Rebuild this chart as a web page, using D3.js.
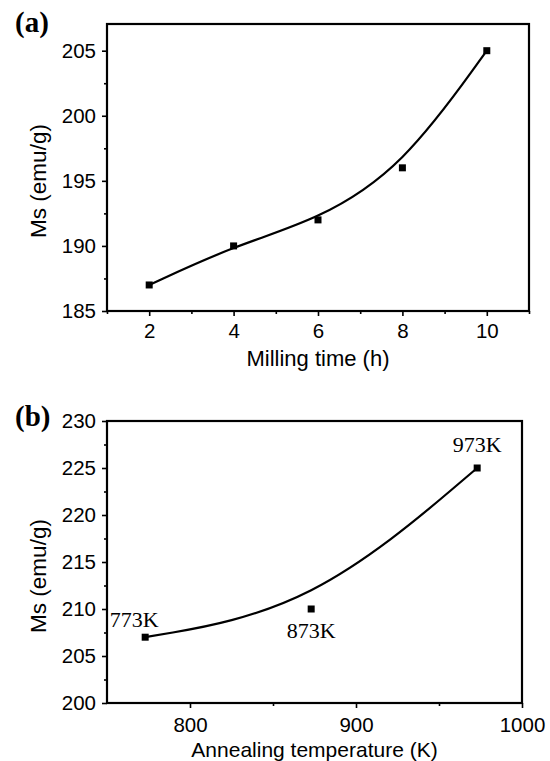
<!DOCTYPE html>
<html>
<head>
<meta charset="utf-8">
<script src="https://cdn.jsdelivr.net/npm/d3@7"></script>
<style>
  body { margin: 0; background: #fff; }
  svg text { fill: #000; }
</style>
</head>
<body>
<div id="content"></div>
<script>
// data
const millTime = [2, 4, 6, 8, 10];
const msMilling = [187, 190, 192, 196, 205];
const annealTemp = [773, 873, 973];
const msAnneal = [207, 210, 225];
const annealLabels = ["773K", "873K", "973K"];

const xTicksA = [2, 4, 6, 8, 10];
const xMinorA = [1, 3, 5, 7, 9, 11];
const yTicksA = [185, 190, 195, 200, 205];
const yMinorA = [187.5, 192.5, 197.5, 202.5];
const xTicksB = [800, 900, 1000];
const xMinorB = [850, 950];
const yTicksB = [200, 205, 210, 215, 220, 225, 230];
const yMinorB = [202.5, 207.5, 212.5, 217.5, 222.5, 227.5];

const svg = d3.select("#content")
    .append("svg")
    .attr("width", 550)
    .attr("height", 761);

const sans = "Liberation Sans, Arial, sans-serif";
const serif = "Liberation Serif, Times New Roman, serif";

function drawPanel(cfg) {
    const g = svg.append("g");
    const x = cfg.x, y = cfg.y;
    const [x0, x1] = x.range();
    const [y0, y1] = y.range();

    // minor ticks
    g.append("g")
        .attr("transform", "translate(0," + y0 + ")")
        .call(d3.axisBottom(x).tickValues(cfg.xMinor).tickSize(3).tickFormat(""))
        .call(a => a.select(".domain").remove());
    g.append("g")
        .attr("transform", "translate(" + x0 + ",0)")
        .call(d3.axisLeft(y).tickValues(cfg.yMinor).tickSize(3).tickFormat(""))
        .call(a => a.select(".domain").remove());

    // major ticks
    const xa = g.append("g")
        .attr("transform", "translate(0," + y0 + ")")
        .call(d3.axisBottom(x).tickValues(cfg.xTicks).tickSize(5).tickPadding(cfg.xPad).tickFormat(d3.format("d")));
    const ya = g.append("g")
        .attr("transform", "translate(" + x0 + ",0)")
        .call(d3.axisLeft(y).tickValues(cfg.yTicks).tickSize(5).tickPadding(6).tickFormat(d3.format("d")));

    [xa, ya].forEach(a => {
        a.select(".domain").remove();
        a.selectAll("text").attr("font-family", sans).attr("font-size", 20.5).attr("fill", "#000");
    });
    g.selectAll("line").attr("stroke", "#000").attr("stroke-width", 1.6);

    // frame
    g.append("rect")
        .attr("x", x0)
        .attr("y", y1)
        .attr("width", x1 - x0)
        .attr("height", y0 - y1)
        .attr("fill", "none")
        .attr("stroke", "#000")
        .attr("stroke-width", 2.2);

    // smooth line (B-spline)
    const pts = cfg.xs.map((d, i) => [d, cfg.ys[i]]);
    g.append("path")
        .datum(pts)
        .attr("fill", "none")
        .attr("stroke", "#000")
        .attr("stroke-width", 2.2)
        .attr("d", d3.line().x(d => x(d[0])).y(d => y(d[1])).curve(d3.curveBasis));

    // square markers
    g.selectAll("rect.pt")
        .data(pts)
        .enter()
        .append("rect")
        .attr("class", "pt")
        .attr("x", d => x(d[0]) - 3.5)
        .attr("y", d => y(d[1]) - 3.5)
        .attr("width", 7)
        .attr("height", 7)
        .attr("fill", "#000");

    // axis titles
    g.append("text")
        .attr("x", (x0 + x1) / 2)
        .attr("y", cfg.xTitleY)
        .attr("text-anchor", "middle")
        .attr("font-family", sans)
        .attr("font-size", cfg.xTitleSize)
        .text(cfg.xTitle);

    g.append("text")
        .attr("transform", "translate(46," + cfg.yTitleY + ") rotate(-90)")
        .attr("text-anchor", "middle")
        .attr("font-family", sans)
        .attr("font-size", 22.5)
        .text("Ms (emu/g)");

    // panel label
    g.append("text")
        .attr("x", 15)
        .attr("y", cfg.labelY)
        .attr("font-family", serif)
        .attr("font-weight", "bold")
        .attr("font-size", 29)
        .text(cfg.label);

    return g;
}

const xA = d3.scaleLinear().domain([1, 11]).range([107, 529]);
const yA = d3.scaleLinear().domain([185, 207.05]).range([311, 24]);

drawPanel({
    x: xA, y: yA,
    xs: millTime, ys: msMilling,
    xTicks: xTicksA, xMinor: xMinorA, yTicks: yTicksA, yMinor: yMinorA,
    xPad: 7,
    xTitle: "Milling time (h)", xTitleSize: 22, xTitleY: 366, yTitleY: 181,
    label: "(a)", labelY: 32
});

const xB = d3.scaleLinear().domain([750, 1000]).range([107, 522]);
const yB = d3.scaleLinear().domain([200, 230]).range([703, 421]);

const gB = drawPanel({
    x: xB, y: yB,
    xs: annealTemp, ys: msAnneal,
    xTicks: xTicksB, xMinor: xMinorB, yTicks: yTicksB, yMinor: yMinorB,
    xPad: 9,
    xTitle: "Annealing temperature (K)", xTitleSize: 21, xTitleY: 757, yTitleY: 576,
    label: "(b)", labelY: 426
});

// temperature annotations
const labelOffsets = [[-11, -10], [0, 29], [0, -16]];
gB.selectAll("text.ann")
    .data(annealLabels)
    .enter()
    .append("text")
    .attr("class", "ann")
    .attr("x", (d, i) => xB(annealTemp[i]) + labelOffsets[i][0])
    .attr("y", (d, i) => yB(msAnneal[i]) + labelOffsets[i][1])
    .attr("text-anchor", "middle")
    .attr("font-family", serif)
    .attr("font-size", 22)
    .text(d => d);
</script>
</body>
</html>
